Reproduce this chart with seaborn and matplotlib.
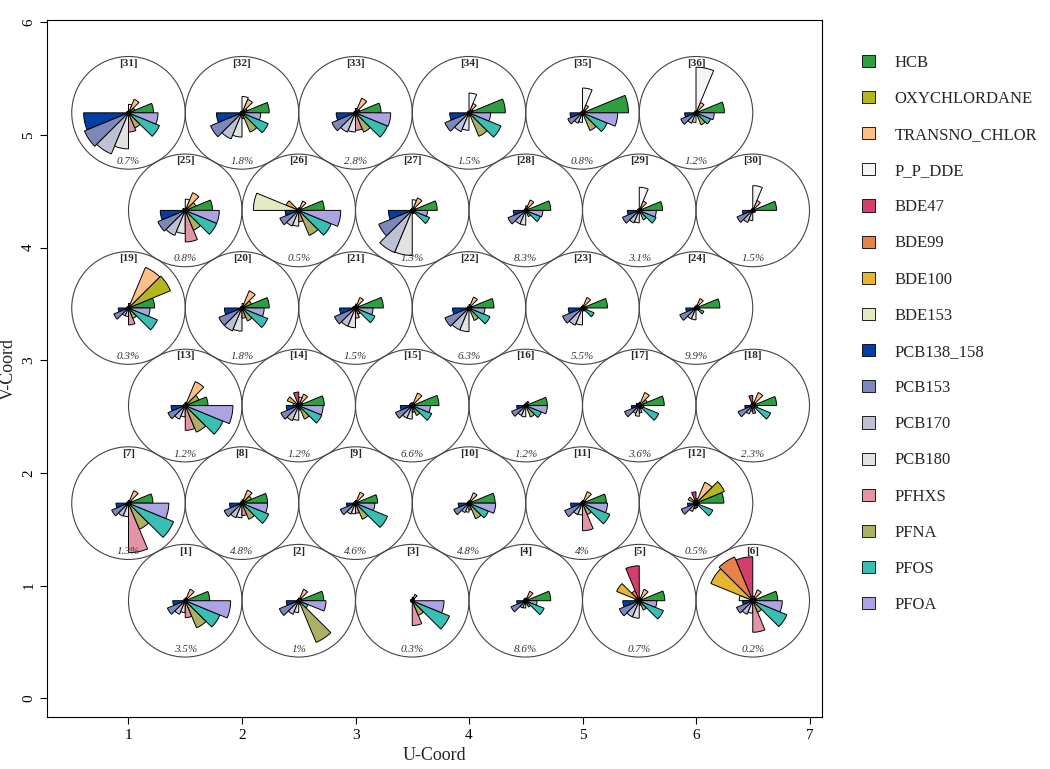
import numpy as np
import matplotlib
matplotlib.use("Agg")
import matplotlib.pyplot as plt
from matplotlib.patches import Wedge, Circle, Patch
import seaborn as sns

# variable names (legend order = segment order, counter-clockwise from east)
variables = ["HCB", "OXYCHLORDANE", "TRANSNO_CHLOR", "P_P_DDE", "BDE47", "BDE99",
             "BDE100", "BDE153", "PCB138_158", "PCB153", "PCB170", "PCB180",
             "PFHXS", "PFNA", "PFOS", "PFOA"]
seg_colors = ["#2E9E3E", "#B5B51E", "#FDC086", "#F5F5F5", "#D33F6A", "#E7834A",
              "#E8B531", "#E2EBC3", "#023FA5", "#7D87B9", "#BEC1D4", "#E2E2E2",
              "#E495A5", "#ABB065", "#39BEB1", "#ACA4E2"]

# scaled codebook values, units 1..36
hcb = [0.43, 0.44, 0.04, 0.44, 0.45, 0.44, 0.43, 0.45, 0.39, 0.46, 0.42, 0.49,
       0.40, 0.45, 0.47, 0.38, 0.44, 0.42, 0.46, 0.48, 0.49, 0.44, 0.44, 0.42,
       0.48, 0.45, 0.44, 0.44, 0.41, 0.42, 0.44, 0.48, 0.45, 0.64, 0.81, 0.50]
oxychlordane = [0.05, 0.06, 0.04, 0.05, 0.06, 0.07, 0.06, 0.18, 0.05, 0.05, 0.06, 0.54,
                0.26, 0.08, 0.05, 0.04, 0.15, 0.06, 0.80, 0.18, 0.07, 0.05, 0.04, 0.04,
                0.20, 0.05, 0.06, 0.05, 0.05, 0.04, 0.12, 0.10, 0.08, 0.08, 0.06, 0.05]
transno_chlor = [0.22, 0.22, 0.12, 0.18, 0.22, 0.21, 0.24, 0.25, 0.21, 0.20, 0.22, 0.40,
                 0.46, 0.22, 0.24, 0.08, 0.25, 0.25, 0.78, 0.33, 0.20, 0.21, 0.20, 0.18,
                 0.34, 0.18, 0.24, 0.20, 0.18, 0.19, 0.26, 0.26, 0.28, 0.18, 0.15, 0.20]
p_p_dde = [0.05, 0.05, 0.06, 0.05, 0.06, 0.08, 0.05, 0.06, 0.05, 0.05, 0.05, 0.08,
           0.06, 0.15, 0.05, 0.05, 0.06, 0.06, 0.08, 0.08, 0.07, 0.06, 0.05, 0.05,
           0.20, 0.05, 0.19, 0.08, 0.41, 0.44, 0.15, 0.29, 0.08, 0.35, 0.44, 0.81]
bde47 = [0.03, 0.03, 0.03, 0.04, 0.62, 0.78, 0.03, 0.03, 0.03, 0.03, 0.03, 0.20,
         0.03, 0.24, 0.05, 0.03, 0.04, 0.18, 0.03, 0.03, 0.04, 0.03, 0.03, 0.03,
         0.03, 0.03, 0.03, 0.03, 0.03, 0.03, 0.03, 0.03, 0.03, 0.03, 0.03, 0.03]
bde99 = [0.03, 0.03, 0.03, 0.04, 0.19, 0.84, 0.03, 0.03, 0.03, 0.03, 0.03, 0.05,
         0.03, 0.04, 0.04, 0.03, 0.03, 0.04, 0.03, 0.03, 0.03, 0.03, 0.03, 0.03,
         0.03, 0.03, 0.03, 0.03, 0.03, 0.03, 0.03, 0.03, 0.03, 0.03, 0.03, 0.03]
bde100 = [0.03, 0.03, 0.03, 0.04, 0.43, 0.80, 0.03, 0.03, 0.03, 0.03, 0.03, 0.15,
          0.03, 0.22, 0.05, 0.03, 0.06, 0.04, 0.03, 0.03, 0.04, 0.03, 0.03, 0.03,
          0.05, 0.24, 0.03, 0.03, 0.03, 0.03, 0.03, 0.03, 0.03, 0.03, 0.03, 0.03]
bde153 = [0.03, 0.03, 0.03, 0.04, 0.08, 0.24, 0.03, 0.03, 0.03, 0.03, 0.03, 0.04,
          0.03, 0.10, 0.04, 0.03, 0.03, 0.03, 0.03, 0.03, 0.05, 0.03, 0.03, 0.03,
          0.03, 0.80, 0.03, 0.03, 0.03, 0.03, 0.04, 0.03, 0.03, 0.03, 0.03, 0.03]
pcb138_158 = [0.22, 0.22, 0.03, 0.16, 0.29, 0.18, 0.22, 0.22, 0.16, 0.19, 0.21, 0.15,
              0.25, 0.22, 0.21, 0.16, 0.14, 0.14, 0.18, 0.31, 0.28, 0.29, 0.25, 0.18,
              0.44, 0.24, 0.42, 0.22, 0.21, 0.18, 0.79, 0.45, 0.34, 0.34, 0.22, 0.20]
pcb153 = [0.34, 0.37, 0.03, 0.28, 0.38, 0.31, 0.32, 0.34, 0.29, 0.29, 0.34, 0.28,
          0.33, 0.34, 0.32, 0.27, 0.28, 0.28, 0.28, 0.44, 0.40, 0.46, 0.38, 0.31,
          0.52, 0.36, 0.64, 0.34, 0.32, 0.30, 0.84, 0.60, 0.45, 0.46, 0.28, 0.29]
pcb170 = [0.26, 0.26, 0.03, 0.14, 0.31, 0.26, 0.25, 0.28, 0.21, 0.18, 0.22, 0.16,
          0.26, 0.29, 0.24, 0.19, 0.15, 0.16, 0.15, 0.44, 0.35, 0.42, 0.33, 0.21,
          0.48, 0.30, 0.81, 0.26, 0.24, 0.23, 0.79, 0.50, 0.37, 0.36, 0.20, 0.20]
pcb180 = [0.21, 0.21, 0.03, 0.13, 0.31, 0.22, 0.24, 0.26, 0.19, 0.16, 0.21, 0.10,
          0.20, 0.26, 0.24, 0.20, 0.19, 0.10, 0.15, 0.41, 0.35, 0.42, 0.30, 0.21,
          0.41, 0.28, 0.80, 0.26, 0.22, 0.18, 0.64, 0.43, 0.34, 0.31, 0.17, 0.17]
pfhxs = [0.30, 0.06, 0.44, 0.06, 0.08, 0.56, 0.88, 0.22, 0.18, 0.12, 0.49, 0.08,
         0.44, 0.08, 0.12, 0.04, 0.13, 0.14, 0.30, 0.18, 0.18, 0.05, 0.05, 0.03,
         0.56, 0.20, 0.05, 0.05, 0.05, 0.03, 0.34, 0.10, 0.31, 0.06, 0.05, 0.05]
pfna = [0.52, 0.80, 0.28, 0.12, 0.18, 0.22, 0.50, 0.31, 0.31, 0.30, 0.22, 0.05,
        0.51, 0.26, 0.19, 0.22, 0.06, 0.05, 0.20, 0.25, 0.12, 0.24, 0.06, 0.04,
        0.38, 0.48, 0.06, 0.12, 0.18, 0.04, 0.29, 0.37, 0.37, 0.45, 0.34, 0.23]
pfos = [0.66, 0.18, 0.71, 0.35, 0.46, 0.65, 0.86, 0.51, 0.61, 0.37, 0.52, 0.32,
        0.72, 0.44, 0.37, 0.30, 0.37, 0.34, 0.55, 0.49, 0.37, 0.40, 0.22, 0.15,
        0.60, 0.62, 0.33, 0.28, 0.32, 0.05, 0.59, 0.50, 0.61, 0.61, 0.47, 0.28]
pfoa = [0.80, 0.48, 0.56, 0.20, 0.31, 0.52, 0.71, 0.45, 0.34, 0.47, 0.44, 0.06,
        0.84, 0.43, 0.32, 0.38, 0.08, 0.08, 0.38, 0.39, 0.31, 0.28, 0.08, 0.06,
        0.60, 0.74, 0.27, 0.30, 0.30, 0.05, 0.52, 0.33, 0.62, 0.38, 0.62, 0.32]

# share of samples mapped to each unit
unit_pct = ["3.5%", "1%", "0.3%", "8.6%", "0.7%", "0.2%",
            "1.3%", "4.8%", "4.6%", "4.8%", "4%", "0.5%",
            "1.2%", "1.2%", "6.6%", "1.2%", "3.6%", "2.3%",
            "0.3%", "1.8%", "1.5%", "6.3%", "5.5%", "9.9%",
            "0.8%", "0.5%", "1.3%", "8.3%", "3.1%", "1.5%",
            "0.7%", "1.8%", "2.8%", "1.5%", "0.8%", "1.2%"]

xdim, ydim = 6, 6
codes = np.column_stack([hcb, oxychlordane, transno_chlor, p_p_dde, bde47, bde99,
                         bde100, bde153, pcb138_158, pcb153, pcb170, pcb180,
                         pfhxs, pfna, pfos, pfoa])

# hexagonal grid (kohonen style)
gx, gy = np.meshgrid(np.arange(1, xdim + 1), np.arange(1, ydim + 1))
gx = gx.ravel().astype(float)
gy = gy.ravel().astype(float)
gx = gx + 0.5 * (gy % 2)
gy = np.sqrt(3) / 2 * gy

sns.set_theme(style="ticks")
plt.rcParams['font.family'] = ['Liberation Serif', 'DejaVu Serif']
palette = sns.color_palette(seg_colors)

fig = plt.figure(figsize=(10.5, 7.69), dpi=100)
ax = fig.add_axes([47 / 1050, 1 - 717 / 769, 775 / 1050, 697 / 769])

step = 360 / len(variables)
for u in range(len(gx)):
    cx, cy = gx[u], gy[u]
    ax.add_patch(Circle((cx, cy), 0.5, fill=False, ec="#444444", lw=0.8))
    for j, v in enumerate(codes[u]):
        ax.add_patch(Wedge((cx, cy), v * 0.5, j * step, (j + 1) * step,
                           fc=palette[j], ec="black", lw=0.7))
    ax.text(cx, cy + 0.44, "[%d]" % (u + 1), ha="center", va="center",
            fontsize=8, fontweight="bold")
    ax.text(cx, cy - 0.43, unit_pct[u], ha="center", va="center",
            fontsize=8, style="italic", color="#333333")

ax.set_xlim(0.282, 7.11)
ax.set_ylim(-0.166, 6.02)
ax.set_xticks(range(1, 8))
ax.set_yticks(range(0, 7))
ax.set_yticklabels([str(i) for i in range(0, 7)], rotation=90, va="center")
ax.tick_params(direction="out", length=5, width=0.8, labelsize=11, colors="black")
for s in ax.spines.values():
    s.set_visible(True)
    s.set_color("black")
    s.set_linewidth(0.8)
ax.set_xlabel("U-Coord", fontsize=13)
ax.set_ylabel("V-Coord", fontsize=13)

handles = [Patch(fc=palette[j], ec="black", lw=0.6) for j in range(len(variables))]
fig.legend(handles, variables, loc="upper left", bbox_to_anchor=(0.821, 0.929),
           frameon=False, fontsize=12, handlelength=0.75, handleheight=0.75,
           labelspacing=1.21, handletextpad=1.2, borderpad=0, borderaxespad=0)

fig.savefig("out.png", dpi=100)
